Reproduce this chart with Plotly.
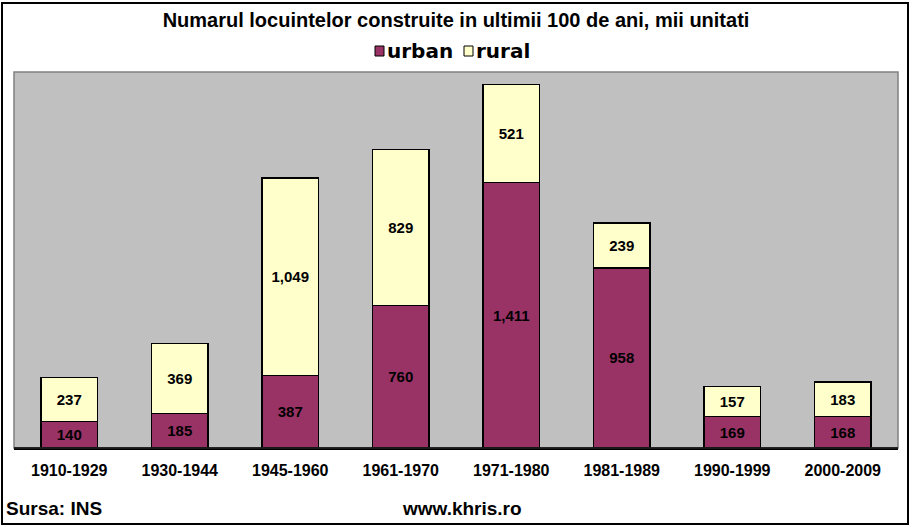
import plotly.graph_objects as go

# periods and housing units built (thousands)
periods = ['1910-1929', '1930-1944', '1945-1960', '1961-1970',
           '1971-1980', '1981-1989', '1990-1999', '2000-2009']
urban = [140, 185, 387, 760, 1411, 958, 169, 168]
rural = [237, 369, 1049, 829, 521, 239, 157, 183]

W, H = 912, 527
L, R, T, B = 14, 14, 72, 79
pw, ph = W - L - R, H - T - B


def px_x(v):
    return (v - L) / pw


def px_y(v):
    return (H - B - v) / ph


FONT = 'Liberation Sans'
URBAN_COL = '#993366'
RURAL_COL = '#FFFFCC'
bar_line = dict(color='black', width=1.2)
label_font = dict(family=FONT, size=15, color='black', weight='bold')

fig = go.Figure()
fig.add_trace(go.Bar(
    x=periods, y=urban, name='urban',
    marker=dict(color=URBAN_COL, line=bar_line),
    texttemplate='%{y:,}', textposition='inside', insidetextanchor='middle',
    textfont=label_font, constraintext='none'
))
fig.add_trace(go.Bar(
    x=periods, y=rural, name='rural',
    marker=dict(color=RURAL_COL, line=bar_line),
    texttemplate='%{y:,}', textposition='inside', insidetextanchor='middle',
    textfont=label_font, constraintext='none'
))

fig.update_layout(
    barmode='stack',
    bargap=0.49,
    width=W, height=H,
    margin=dict(l=L, r=R, t=T, b=B),
    paper_bgcolor='white',
    plot_bgcolor='#C0C0C0',
    font=dict(family=FONT, color='black'),
    showlegend=False,
    title=dict(
        text='<b>Numarul locuintelor construite in ultimii 100 de ani, mii unitati</b>',
        x=0.5, xanchor='center', y=1 - 20 / H, yanchor='middle',
        font=dict(size=20, family=FONT, color='black')
    ),
)

fig.update_xaxes(
    showline=True, linecolor='black', linewidth=1.5,
    ticks='', ticklabelstandoff=7,
    tickfont=dict(size=16, family=FONT, color='black', weight='bold'),
    showgrid=False
)
fig.update_yaxes(
    range=[0, 2000], showticklabels=False, showgrid=False,
    zeroline=False, showline=False
)

# Excel-style legend: small outlined key squares with the series names
legend_items = [('urban', URBAN_COL, 375), ('rural', RURAL_COL, 464)]
for name, col, kx in legend_items:
    fig.add_shape(type='rect', xref='paper', yref='paper',
                  x0=px_x(kx), x1=px_x(kx + 9), y0=px_y(56), y1=px_y(46),
                  fillcolor=col, line=dict(color='black', width=1))
    fig.add_annotation(text='<b>%s</b>' % name, xref='paper', yref='paper',
                       x=px_x(kx + 10), y=px_y(51), xanchor='left', yanchor='middle',
                       showarrow=False,
                       font=dict(size=20, family='DejaVu Sans', color='black'))

# plot area frame (gray) and outer chart border
fig.add_shape(type='rect', xref='paper', yref='paper',
              x0=0, y0=0, x1=1, y1=1,
              line=dict(color='#808080', width=1.5), layer='above')
fig.add_shape(type='line', xref='paper', yref='paper',
              x0=0, y0=0, x1=1, y1=0,
              line=dict(color='black', width=1.5), layer='above')
fig.add_shape(type='rect', xref='paper', yref='paper',
              x0=px_x(2), y0=px_y(524), x1=px_x(908), y1=px_y(3),
              line=dict(color='black', width=2))

fig.add_annotation(text='<b>Sursa: INS</b>', xref='paper', yref='paper',
                   x=px_x(4), y=px_y(509), xanchor='left', yanchor='middle',
                   showarrow=False, font=dict(size=19, family=FONT, color='black'))
fig.add_annotation(text='<b>www.khris.ro</b>', xref='paper', yref='paper',
                   x=px_x(462), y=px_y(509), xanchor='center', yanchor='middle',
                   showarrow=False, font=dict(size=19, family=FONT, color='black'))

fig.write_html('out.html', config={'displayModeBar': False},
               post_script="document.body.style.margin='0px';")
